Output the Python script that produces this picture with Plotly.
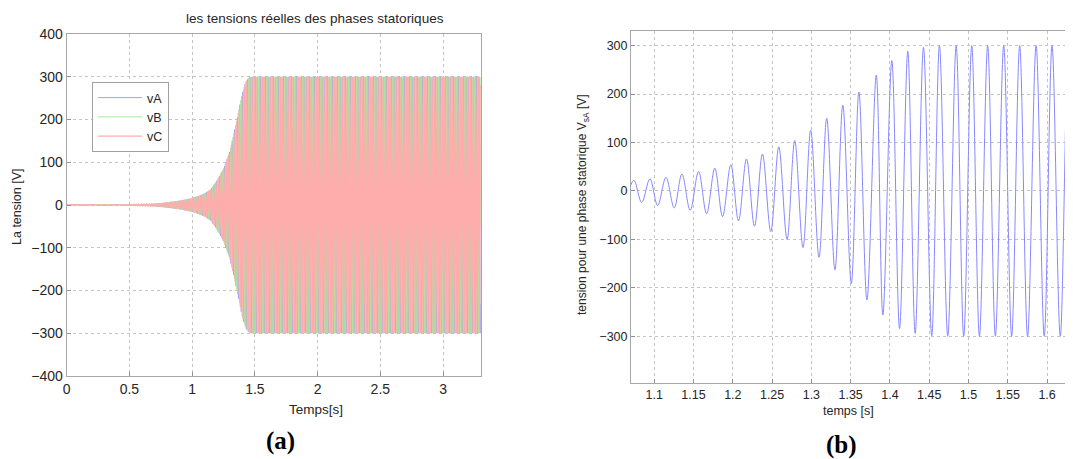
import numpy as np
import plotly.graph_objects as go

# ---------------- data ----------------
# Panel (a): amplitude envelope of the three stator phase voltages (V)
env_t = [0.0, 0.5, 0.7, 0.8, 0.9, 1.0, 1.05, 1.1, 1.15, 1.2, 1.25, 1.3, 1.35, 1.4, 1.43, 1.46, 3.3]
env_v = [0.3, 1.0, 3, 6, 10, 16, 21, 27, 37, 58, 85, 125, 190, 262, 290, 300, 300]
period_s = 0.0205          # period
first_peak_vA = 1.3605     # a peak of vA
phase_names = ["vA", "vB", "vC"]
phase_shift_deg = [0, -120, 120]
phase_colors = ["#a0a0ff", "#a0ee98", "#ffacac"]
phase_widths = [1, 1, 1.4]

# Panel (b): extrema of v_sA (time s, value V)
b_peak_t = [1.0740, 1.0945, 1.1149, 1.1352, 1.1564, 1.1771, 1.1975, 1.2174, 1.2377, 1.2585,
            1.2788, 1.2991, 1.3195, 1.3400, 1.3605, 1.3826, 1.4024, 1.4227, 1.4427, 1.4630,
            1.4843, 1.5041, 1.5244, 1.5448, 1.5651, 1.5860, 1.6063, 1.6270]
b_peak_v = [22, 25, 28, 35, 40, 47, 54, 66, 76, 91,
            104, 125, 150, 177, 204, 239, 269, 288, 296, 300,
            300, 300, 300, 300, 300, 300, 300, 300]
b_trough_t = [1.0640, 1.0840, 1.1043, 1.1254, 1.1457, 1.1666, 1.1869, 1.2072, 1.2276, 1.2483,
              1.2690, 1.2893, 1.3097, 1.3300, 1.3508, 1.3707, 1.3910, 1.4122, 1.4321, 1.4532,
              1.4736, 1.4939, 1.5139, 1.5342, 1.5549, 1.5752, 1.5964, 1.6168, 1.6373]
b_trough_v = [-22, -24, -30, -35, -40, -47, -53, -62, -73, -84,
              -100, -117, -137, -163, -191, -225, -256, -284, -294, -299,
              -300, -300, -300, -300, -300, -300, -300, -300, -300]

a_xticks = [0, 0.5, 1, 1.5, 2, 2.5, 3]
a_xticktext = ["0", "0.5", "1", "1.5", "2", "2.5", "3"]
a_yticks = [-400, -300, -200, -100, 0, 100, 200, 300, 400]
b_xticks = [1.1, 1.15, 1.2, 1.25, 1.3, 1.35, 1.4, 1.45, 1.5, 1.55, 1.6]
b_xticktext = ["1.1", "1.15", "1.2", "1.25", "1.3", "1.35", "1.4", "1.45", "1.5", "1.55", "1.6"]
b_yticks = [-300, -200, -100, 0, 100, 200, 300]

# ---------------- build ----------------
OFF = 8                      # page body margin
W, H = 1073 - OFF, 459 - OFF

def px(x):
    return (x - OFF) / W

def py(y):
    return 1 - (y - OFF) / H

fig = go.Figure()

t = np.linspace(0, 3.3, 9000)
env = np.interp(t, env_t, env_v)
for name, sh, col, lw in zip(phase_names, phase_shift_deg, phase_colors, phase_widths):
    v = env * np.cos(2 * np.pi * (t - first_peak_vA) / period_s + np.deg2rad(sh))
    fig.add_trace(go.Scatter(x=t, y=v, mode="lines", name=name,
                             line=dict(color=col, width=lw), xaxis="x", yaxis="y"))

# panel (b) – interleave extrema in time order
bt = np.array(b_peak_t + b_trough_t)
bv = np.array(b_peak_v + b_trough_v)
order = np.argsort(bt)
fig.add_trace(go.Scatter(x=bt[order], y=bv[order], mode="lines", showlegend=False,
                         line=dict(color="#8888ff", width=1, shape="spline", smoothing=1),
                         xaxis="x2", yaxis="y2"))

font = "Liberation Sans, Arial, sans-serif"
tickfont = dict(family=font, color="#262626")
axcommon = dict(showline=True, linecolor="#a8a8a8", linewidth=1, mirror=True,
                ticks="inside", ticklen=4, tickcolor="#909090", automargin=False,
                showgrid=True, gridcolor="#c4c4c4", griddash="dot", gridwidth=1,
                zeroline=False)

fig.update_layout(
    template="none",
    width=W, height=H, margin=dict(l=0, r=0, t=0, b=0, pad=0, autoexpand=False),
    paper_bgcolor="white", plot_bgcolor="white",
    xaxis=dict(domain=[px(66.7), px(480.7)], range=[0, 3.3], tickvals=a_xticks,
               ticktext=a_xticktext, tickfont=dict(size=14, **tickfont), anchor="y", **axcommon),
    yaxis=dict(domain=[py(376), py(34)], range=[-400, 400], tickvals=a_yticks,
               tickfont=dict(size=14, **tickfont), anchor="x", **axcommon),
    xaxis2=dict(domain=[px(631), 1.0], range=[1.0704, 1.633], tickvals=b_xticks,
                ticktext=b_xticktext, tickfont=dict(size=12.5, **tickfont), anchor="y2", **axcommon),
    yaxis2=dict(domain=[py(383.3), py(31)], range=[-397, 330], tickvals=b_yticks,
                tickfont=dict(size=12.5, **tickfont), anchor="x2", **axcommon),
    legend=dict(x=px(92), y=py(82), xanchor="left", yanchor="top",
                bgcolor="white", bordercolor="#a0a0a0", borderwidth=1, itemwidth=44,
                font=dict(family=font, size=12.5, color="#262626"), tracegroupgap=0),
    font=dict(family=font, color="#262626"),
    showlegend=True,
)

def ann(text, x, y, size, rot=0, fam=font, bold=False, color="#262626"):
    fig.add_annotation(text=f"<b>{text}</b>" if bold else text, x=px(x), y=py(y),
                       xref="paper", yref="paper", showarrow=False, textangle=rot,
                       xanchor="center", yanchor="middle",
                       font=dict(family=fam, size=size, color=color))

ann("les tensions réelles des phases statoriques", 315, 18.5, 13.5)
ann("Temps[s]", 316, 409, 13.5)
ann("La tension [V]", 17, 207, 12.5, rot=-90)
ann("(a)", 280, 441, 25, fam="Liberation Serif, Times New Roman, serif", bold=True, color="black")
ann("tension pour une phase statorique V<sub>sA</sub> [V]", 583, 205, 12, rot=-90)
ann("temps [s]", 848, 411, 12.5)
ann("(b)", 841, 445, 25, fam="Liberation Serif, Times New Roman, serif", bold=True, color="black")

fig.write_html("out.html")
